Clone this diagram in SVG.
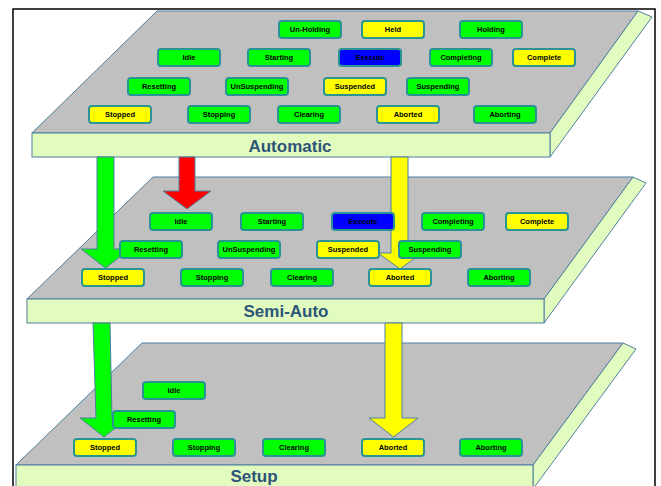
<svg xmlns="http://www.w3.org/2000/svg" width="661" height="486" viewBox="0 0 661 486">
<style>
.top{fill:#c0c0c0;stroke:#4f7fa0;stroke-width:1}
.face{fill:#e2fcc0;stroke:#4f7fa0;stroke-width:1}
.lbl{font-family:"Liberation Sans",Arial,sans-serif;font-weight:bold;font-size:17px;fill:#2d5577;text-anchor:middle}
.n rect{stroke:#2a9494;stroke-width:2}
.g rect{fill:#00ff00}
.y rect{fill:#ffff00}
.b rect{fill:#0000ff}
.n text{font-family:"Liberation Sans",Arial,sans-serif;font-weight:bold;font-size:7.5px;fill:#000;text-anchor:middle}
.arr{stroke:#4f7fa0;stroke-width:1}
</style>
<rect x="13" y="9" width="642" height="490" fill="#fff" stroke="#000" stroke-width="1.5"/>

<g id="layer-setup">
<polygon class="top" points="142,343 623,343 533,465 16,465"/>
<polygon class="face" points="533,465 623,343 636,349 533,489"/>
<rect class="face" x="16" y="465" width="517" height="30"/>
<text class="lbl" x="254" y="482">Setup</text>
</g>
<g id="layer-semiauto">
<polygon class="top" points="153,177 633,177 544,299 27,299"/>
<polygon class="face" points="544,299 633,177 646,183 544,323"/>
<rect class="face" x="27" y="299" width="517" height="24"/>
<text class="lbl" x="286" y="317">Semi-Auto</text>
</g>
<g id="layer-automatic">
<polygon class="top" points="157,11 638,11 550,133 32,133"/>
<polygon class="face" points="550,133 638,11 652,17 550,157"/>
<rect class="face" x="32" y="133" width="518" height="24"/>
<text class="lbl" x="290" y="152">Automatic</text>
</g>

<g id="connectors">
<polygon class="arr" fill="#ff0000" points="179,157 195,157 195,191 211,191 187,209 163,191 179,191"/>
<polygon class="arr" fill="#00ff00" points="97,157 114,157 114,249 130,249 105.5,268 81,249 97,249"/>
<polygon class="arr" fill="#ffff00" points="391,157 408,157 408,253 422,253 400,269 378,253 391,253"/>
<polygon class="arr" fill="#00ff00" points="93,323 110,323 112,418 128,418 104,437 80,418 96,418"/>
<polygon class="arr" fill="#ffff00" points="385,323 402,323 402,418 418,418 393.5,437 369,418 385,418"/>
</g>

<g id="a-unholding" class="n g" transform="translate(279,21)"><rect width="62" height="17" rx="3"/><text x="31" y="11.3">Un-Holding</text></g>
<g id="a-held" class="n y" transform="translate(362,21)"><rect width="62" height="17" rx="3"/><text x="31" y="11.3">Held</text></g>
<g id="a-holding" class="n g" transform="translate(460,21)"><rect width="62" height="17" rx="3"/><text x="31" y="11.3">Holding</text></g>
<g id="a-idle" class="n g" transform="translate(158,49)"><rect width="62" height="17" rx="3"/><text x="31" y="11.3">Idle</text></g>
<g id="a-starting" class="n g" transform="translate(248,49)"><rect width="62" height="17" rx="3"/><text x="31" y="11.3">Starting</text></g>
<g id="a-execute" class="n b" transform="translate(339,49)"><rect width="62" height="17" rx="3"/><text x="31" y="11.3">Execute</text></g>
<g id="a-completing" class="n g" transform="translate(430,49)"><rect width="62" height="17" rx="3"/><text x="31" y="11.3">Completing</text></g>
<g id="a-complete" class="n y" transform="translate(513,49)"><rect width="62" height="17" rx="3"/><text x="31" y="11.3">Complete</text></g>
<g id="a-resetting" class="n g" transform="translate(128,78)"><rect width="62" height="17" rx="3"/><text x="31" y="11.3">Resetting</text></g>
<g id="a-unsuspending" class="n g" transform="translate(226,78)"><rect width="62" height="17" rx="3"/><text x="31" y="11.3">UnSuspending</text></g>
<g id="a-suspended" class="n y" transform="translate(324,78)"><rect width="62" height="17" rx="3"/><text x="31" y="11.3">Suspended</text></g>
<g id="a-suspending" class="n g" transform="translate(407,78)"><rect width="62" height="17" rx="3"/><text x="31" y="11.3">Suspending</text></g>
<g id="a-stopped" class="n y" transform="translate(89,106)"><rect width="62" height="17" rx="3"/><text x="31" y="11.3">Stopped</text></g>
<g id="a-stopping" class="n g" transform="translate(188,106)"><rect width="62" height="17" rx="3"/><text x="31" y="11.3">Stopping</text></g>
<g id="a-clearing" class="n g" transform="translate(278,106)"><rect width="62" height="17" rx="3"/><text x="31" y="11.3">Clearing</text></g>
<g id="a-aborted" class="n y" transform="translate(377,106)"><rect width="62" height="17" rx="3"/><text x="31" y="11.3">Aborted</text></g>
<g id="a-aborting" class="n g" transform="translate(474,106)"><rect width="62" height="17" rx="3"/><text x="31" y="11.3">Aborting</text></g>

<g id="s-idle" class="n g" transform="translate(150,213)"><rect width="62" height="17" rx="3"/><text x="31" y="11.3">Idle</text></g>
<g id="s-starting" class="n g" transform="translate(241,213)"><rect width="62" height="17" rx="3"/><text x="31" y="11.3">Starting</text></g>
<g id="s-execute" class="n b" transform="translate(332,213)"><rect width="62" height="17" rx="3"/><text x="31" y="11.3">Execute</text></g>
<g id="s-completing" class="n g" transform="translate(422,213)"><rect width="62" height="17" rx="3"/><text x="31" y="11.3">Completing</text></g>
<g id="s-complete" class="n y" transform="translate(506,213)"><rect width="62" height="17" rx="3"/><text x="31" y="11.3">Complete</text></g>
<g id="s-resetting" class="n g" transform="translate(120,241)"><rect width="62" height="17" rx="3"/><text x="31" y="11.3">Resetting</text></g>
<g id="s-unsuspending" class="n g" transform="translate(218,241)"><rect width="62" height="17" rx="3"/><text x="31" y="11.3">UnSuspending</text></g>
<g id="s-suspended" class="n y" transform="translate(317,241)"><rect width="62" height="17" rx="3"/><text x="31" y="11.3">Suspended</text></g>
<g id="s-suspending" class="n g" transform="translate(399,241)"><rect width="62" height="17" rx="3"/><text x="31" y="11.3">Suspending</text></g>
<g id="s-stopped" class="n y" transform="translate(82,269)"><rect width="62" height="17" rx="3"/><text x="31" y="11.3">Stopped</text></g>
<g id="s-stopping" class="n g" transform="translate(181,269)"><rect width="62" height="17" rx="3"/><text x="31" y="11.3">Stopping</text></g>
<g id="s-clearing" class="n g" transform="translate(271,269)"><rect width="62" height="17" rx="3"/><text x="31" y="11.3">Clearing</text></g>
<g id="s-aborted" class="n y" transform="translate(369,269)"><rect width="62" height="17" rx="3"/><text x="31" y="11.3">Aborted</text></g>
<g id="s-aborting" class="n g" transform="translate(468,269)"><rect width="62" height="17" rx="3"/><text x="31" y="11.3">Aborting</text></g>

<g id="u-idle" class="n g" transform="translate(143,382)"><rect width="62" height="17" rx="3"/><text x="31" y="11.3">Idle</text></g>
<g id="u-resetting" class="n g" transform="translate(113,411)"><rect width="62" height="17" rx="3"/><text x="31" y="11.3">Resetting</text></g>
<g id="u-stopped" class="n y" transform="translate(74,439)"><rect width="62" height="17" rx="3"/><text x="31" y="11.3">Stopped</text></g>
<g id="u-stopping" class="n g" transform="translate(173,439)"><rect width="62" height="17" rx="3"/><text x="31" y="11.3">Stopping</text></g>
<g id="u-clearing" class="n g" transform="translate(263,439)"><rect width="62" height="17" rx="3"/><text x="31" y="11.3">Clearing</text></g>
<g id="u-aborted" class="n y" transform="translate(362,439)"><rect width="62" height="17" rx="3"/><text x="31" y="11.3">Aborted</text></g>
<g id="u-aborting" class="n g" transform="translate(460,439)"><rect width="62" height="17" rx="3"/><text x="31" y="11.3">Aborting</text></g>
</svg>
